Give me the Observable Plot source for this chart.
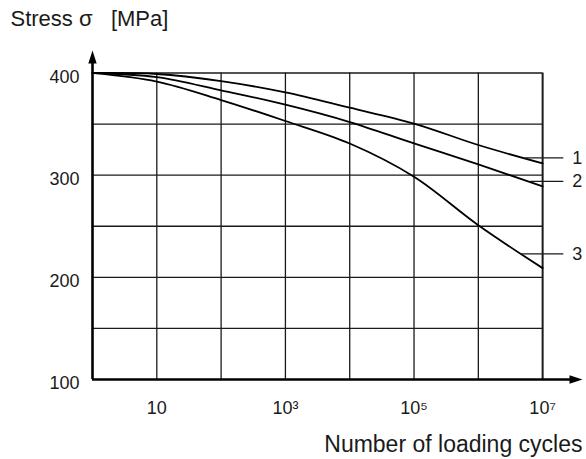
<!DOCTYPE html>
<html>
<head>
<meta charset="utf-8">
<script src="https://cdn.jsdelivr.net/npm/d3@7"></script>
<script src="https://cdn.jsdelivr.net/npm/@observablehq/plot@0.6"></script>
<style>
  html, body { margin: 0; padding: 0; background: #fff; }
  #chart svg { display: block; overflow: visible; }
</style>
</head>
<body>
<div id="chart"></div>
<script>
// ---- data ----
const cycles = [1, 10, 1e2, 1e3, 1e4, 1e5, 1e6, 1e7];
const curve1 = [400, 399, 392, 381, 366, 350.5, 329.5, 311.5];
const curve2 = [400, 396, 383, 369, 352, 331, 310.5, 289];
const curve3 = [400, 391.5, 373.5, 353, 331, 298.5, 251, 209];

const gridCycles = [10, 1e2, 1e3, 1e4, 1e5, 1e6, 1e7];
const gridStress = [150, 200, 250, 300, 350, 400];
const xTickExponents = [1, 3, 5, 7];
const yTicks = [100, 200, 300, 400];

const curveNames = ["1", "2", "3"];
const leaderStress = [317, 294, 223];
const leaderStartExp = [6.73, 6.81, 6.66];
const leaderEndExp = 7.33;
const labelExp = 7.46;

const title = "Stress σ\u00a0\u00a0\u00a0[MPa]";
const xTitle = "Number of loading cycles";

// ---- derived tables ----
const xMin = 1, xMax = 10 ** 7.62;
const yMin = 100, yMax = 422;
const series = [curve1, curve2, curve3].flatMap((vals, i) =>
  vals.map((v, j) => ({curve: curveNames[i], n: cycles[j], s: v})));
const leaders = curveNames.map((name, i) => ({
  name, s: leaderStress[i], x1: 10 ** leaderStartExp[i], x2: 10 ** leaderEndExp, xl: 10 ** labelExp
}));
const sup = {0:"⁰",1:"¹",2:"²",3:"³",4:"⁴",5:"⁵",6:"⁶",7:"⁷",8:"⁸",9:"⁹"};
const xTicks = xTickExponents.map(e => 10 ** e);
const fmtX = d => { const e = Math.round(Math.log10(d)); return e === 1 ? "10" : "10" + sup[e]; };

const ink = "#1a1a1a";
const chart = Plot.plot({
  width: 586,
  height: 459,
  marginLeft: 92,
  marginRight: 4,
  marginTop: 50,
  marginBottom: 80,
  style: {fontFamily: "'Liberation Sans', Arial, sans-serif", background: "#fff", color: ink},
  x: {type: "log", domain: [xMin, xMax]},
  y: {domain: [yMin, yMax]},
  marks: [
    // grid
    Plot.ruleX(gridCycles, {y1: 100, y2: 400, stroke: ink, strokeWidth: d => d === 1e7 ? 2 : 1.3}),
    Plot.ruleY(gridStress, {x1: 1, x2: 1e7, stroke: ink, strokeWidth: 1.3}),
    // curves
    Plot.line(series, {x: "n", y: "s", z: "curve", curve: "catmull-rom", stroke: "#000", strokeWidth: 1.8}),
    // leader lines and labels
    Plot.ruleY(leaders, {y: "s", x1: "x1", x2: "x2", stroke: ink, strokeWidth: 1.3}),
    Plot.text(leaders, {x: "xl", y: "s", text: "name", textAnchor: "start", fontSize: 18, fill: ink}),
    // axis lines with arrowheads
    Plot.ruleX([xMin], {y1: yMin, y2: 412, stroke: "#000", strokeWidth: 2.6}),
    Plot.ruleY([yMin], {x1: xMin, x2: 10 ** 7.45, stroke: "#000", strokeWidth: 2.6}),
    Plot.vector([{x: xMax, y: yMin}], {x: "x", y: "y", rotate: 90, length: 13, r: 4.2, shape: "spike", anchor: "end", fill: "#000", stroke: "none"}),
    Plot.vector([{x: xMin, y: yMax}], {x: "x", y: "y", rotate: 0, length: 13, r: 4.2, shape: "spike", anchor: "end", fill: "#000", stroke: "none"}),
    // tick labels
    Plot.axisX(xTicks, {tickFormat: fmtX, tickSize: 0, tickPadding: 22, fontSize: 18, fill: ink, label: null}),
    Plot.axisY(yTicks, {tickSize: 0, tickPadding: 13, dy: 4, fontSize: 18, fill: ink, label: null}),
    // titles
    Plot.text([title], {frameAnchor: "top-left", dx: -82, dy: -32, textAnchor: "start", lineAnchor: "middle", fontSize: 22, fill: ink}),
    Plot.text([xTitle], {frameAnchor: "bottom-right", dx: 0, dy: 65, textAnchor: "end", lineAnchor: "middle", fontSize: 23, fill: ink})
  ]
});
document.getElementById("chart").appendChild(chart);
</script>
</body>
</html>
